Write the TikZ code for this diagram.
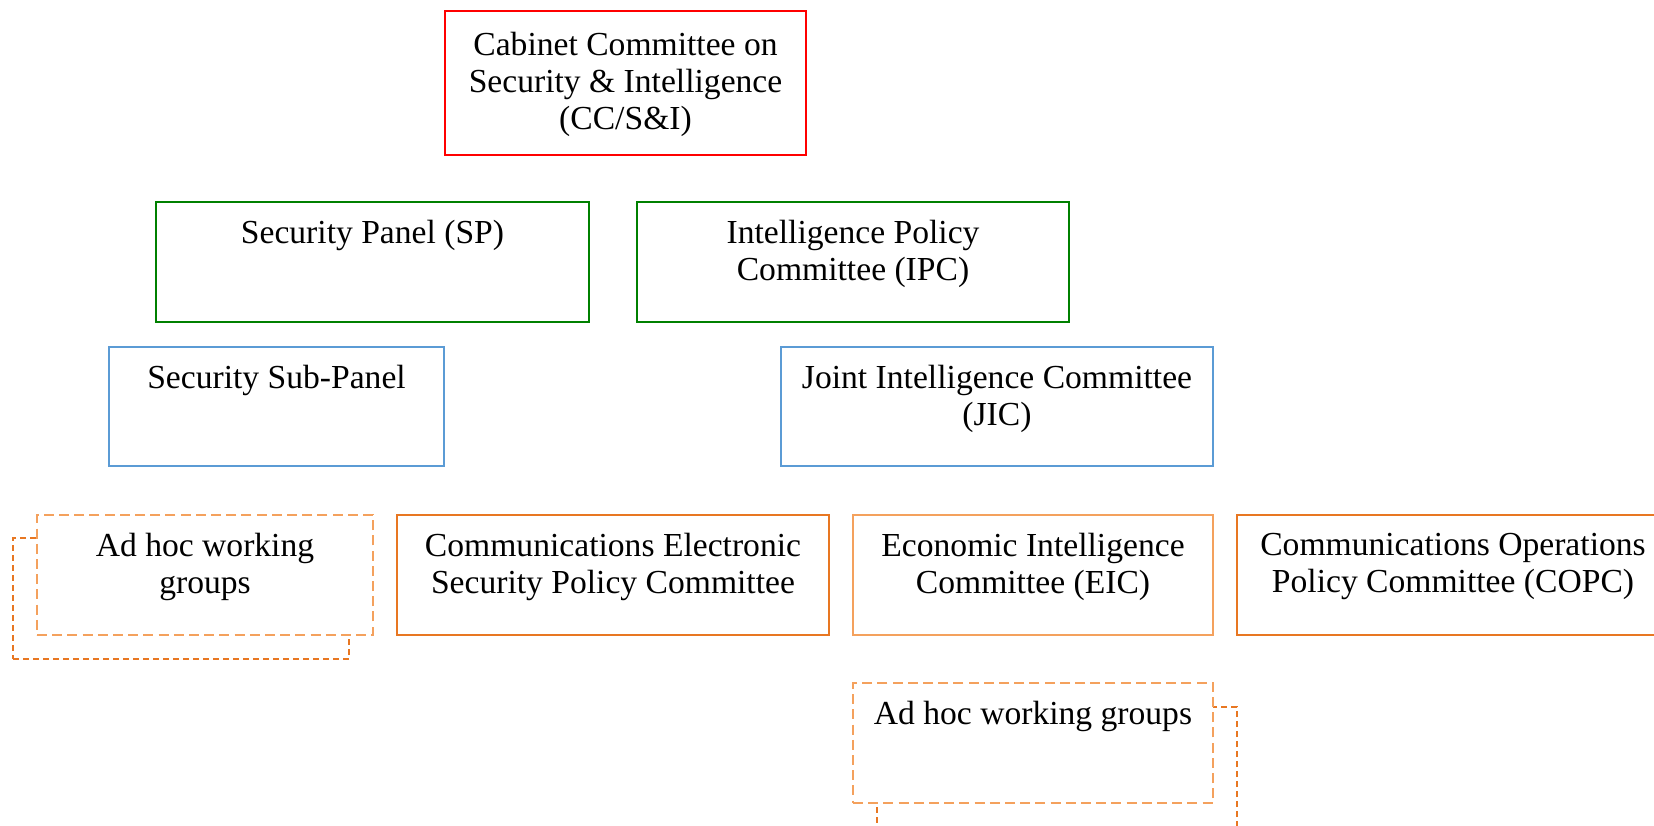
\documentclass[tikz,border=0pt]{standalone}
\usepackage{fontspec}
\setmainfont{Liberation Serif}
\usepackage{xcolor}
\definecolor{ccred}{HTML}{FF0000}
\definecolor{panelgreen}{HTML}{008000}
\definecolor{subblue}{HTML}{5B9BD5}
\definecolor{commorange}{HTML}{E87722}
\definecolor{lightorange}{HTML}{F4A15D}
\usepackage{tikz}
\usetikzlibrary{positioning}
\tikzset{
  orgbox/.style={draw=#1,line width=1.2pt,fill=white,inner sep=0pt},
  wgfront/.style={draw=lightorange,line width=1.2pt,fill=white,inner sep=0pt,dash pattern=on 5pt off 2.6pt},
  wgback/.style={draw=commorange,line width=1.2pt,inner sep=0pt,dash pattern=on 3pt off 2pt},
  boxtext/.style={anchor=north,yshift=-9.3pt,inner sep=0pt,align=center,font=\fontsize{16.8}{18.5}\selectfont},
}

\begin{document}
\begin{tikzpicture}[x=0.5pt,y=-0.5pt]
\useasboundingbox (0,0) rectangle (1654,825);
% top level
\node[orgbox=ccred,minimum width=180.5pt,minimum height=72pt,label={[boxtext,yshift=-1.8pt]north:Cabinet Committee on\\Security \& Intelligence\\(CC/S\&I)}] (cc) at (625.5,83){};
% panels
\node[orgbox=panelgreen,minimum width=216.5pt,minimum height=60pt,label={[boxtext]north:Security Panel (SP)}] (sp) at (372.5,262){};
\node[orgbox=panelgreen,minimum width=216pt,minimum height=60pt,label={[boxtext]north:Intelligence Policy\\Committee (IPC)}] (ipc) at (853,262){};
\node[orgbox=subblue,minimum width=167.5pt,minimum height=59.5pt,label={[boxtext]north:Security Sub-Panel}] (ssp) at (276.5,406.5){};
\node[orgbox=subblue,minimum width=216pt,minimum height=59.5pt,label={[boxtext]north:Joint Intelligence Committee\\(JIC)}] (jic) at (997,406.5){};
% committees
\node[wgback,minimum width=168pt,minimum height=60.5pt] (wgaback) at (181,598.5){};
\node[wgfront,minimum width=168pt,minimum height=60pt,label={[boxtext]north:Ad hoc working\\groups}] (wga) at (205,575){};
\node[orgbox=commorange,minimum width=216pt,minimum height=60pt,label={[boxtext]north:Communications Electronic\\Security Policy Committee}] (cespc) at (613,575){};
\node[orgbox=lightorange,minimum width=180pt,minimum height=60pt,label={[boxtext]north:Economic Intelligence\\Committee (EIC)}] (eic) at (1033,575){};
\node[orgbox=commorange,minimum width=216pt,minimum height=60pt,label={[boxtext]north:Communications Operations\\Policy Committee (COPC)}] (copc) at (1453,575){};
\node[wgback,minimum width=180pt,minimum height=60pt] (wgbback) at (1057,767){};
\node[wgfront,minimum width=180pt,minimum height=60pt,label={[boxtext]north:Ad hoc working groups}] (wgb) at (1033,743){};
\end{tikzpicture}
\end{document}
